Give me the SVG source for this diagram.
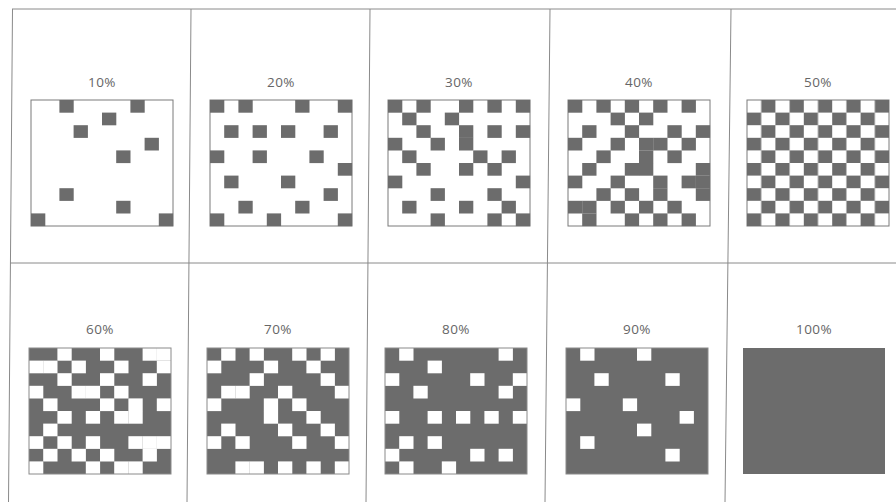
<svg xmlns="http://www.w3.org/2000/svg" xmlns:xlink="http://www.w3.org/1999/xlink" width="896" height="502" viewBox="0 0 896 502">
<style>
  .ln{stroke:#8a8a8a;stroke-width:1;fill:none}
  .box{fill:#fff;stroke:#7a7a7a;stroke-width:1}
  .full{fill:#6c6c6c}
  .edge{fill:none;stroke:#8a8a8a;stroke-width:1}
  .d{fill:#6c6c6c}
  .w{fill:#fff}
  .lbl{font-family:"Open Sans","Liberation Sans",sans-serif;font-size:13.5px;fill:#666;text-anchor:middle;letter-spacing:0.4px}
</style>
<defs>
  <rect id="c" width="14.3" height="12.7"/>
  <rect id="w" width="14.3" height="12.7"/>
  <pattern id="chk" patternUnits="userSpaceOnUse" width="28.4" height="25.2">
    <rect x="14.2" y="0" width="14.2" height="12.6" fill="#6c6c6c"/>
    <rect x="0" y="12.6" width="14.2" height="12.6" fill="#6c6c6c"/>
  </pattern>
</defs>
<rect width="896" height="502" fill="#fff"/>
<g id="grid">
  <line class="ln" x1="12" y1="9" x2="896" y2="9"/>
  <line class="ln" x1="10" y1="263" x2="896" y2="263"/>
  <line class="ln" x1="12.5" y1="9" x2="8.5" y2="502"/>
  <line class="ln" x1="191" y1="9" x2="187" y2="502"/>
  <line class="ln" x1="370" y1="9" x2="366" y2="502"/>
  <line class="ln" x1="550" y1="9" x2="545" y2="502"/>
  <line class="ln" x1="731" y1="9" x2="725" y2="502"/>
</g>
<g id="cell-10" transform="translate(31,100)">
  <text class="lbl" x="71" y="-13">10%</text>
  <rect class="box" width="142" height="126"/>
  <g class="d">
    <use href="#c" x="28.4" y="0"/><use href="#c" x="99.4" y="0"/><use href="#c" x="71" y="12.6"/>
    <use href="#c" x="42.6" y="25.2"/><use href="#c" x="113.6" y="37.8"/><use href="#c" x="85.2" y="50.4"/>
    <use href="#c" x="28.4" y="88.2"/><use href="#c" x="85.2" y="100.8"/><use href="#c" x="0" y="113.4"/>
    <use href="#c" x="127.8" y="113.4"/>
  </g>
</g>
<g id="cell-20" transform="translate(210,100)">
  <text class="lbl" x="71" y="-13">20%</text>
  <rect class="box" width="142" height="126"/>
  <g class="d">
    <use href="#c" x="0" y="0"/><use href="#c" x="28.4" y="0"/><use href="#c" x="85.2" y="0"/><use href="#c" x="127.8" y="0"/>
    <use href="#c" x="14.2" y="25.2"/><use href="#c" x="42.6" y="25.2"/><use href="#c" x="71" y="25.2"/><use href="#c" x="113.6" y="25.2"/>
    <use href="#c" x="0" y="50.4"/><use href="#c" x="42.6" y="50.4"/><use href="#c" x="99.4" y="50.4"/>
    <use href="#c" x="127.8" y="63"/>
    <use href="#c" x="14.2" y="75.6"/><use href="#c" x="71" y="75.6"/>
    <use href="#c" x="113.6" y="88.2"/>
    <use href="#c" x="28.4" y="100.8"/><use href="#c" x="85.2" y="100.8"/>
    <use href="#c" x="0" y="113.4"/><use href="#c" x="56.8" y="113.4"/><use href="#c" x="127.8" y="113.4"/>
  </g>
</g>
<g id="cell-30" transform="translate(388,100)">
  <text class="lbl" x="71" y="-13">30%</text>
  <rect class="box" width="142" height="126"/>
  <g class="d">
    <use href="#c" x="0" y="0"/><use href="#c" x="28.4" y="0"/><use href="#c" x="71" y="0"/><use href="#c" x="99.4" y="0"/><use href="#c" x="127.8" y="0"/>
    <use href="#c" x="14.2" y="12.6"/><use href="#c" x="56.8" y="12.6"/>
    <use href="#c" x="28.4" y="25.2"/><use href="#c" x="71" y="25.2"/><use href="#c" x="99.4" y="25.2"/><use href="#c" x="127.8" y="25.2"/>
    <use href="#c" x="0" y="37.8"/><use href="#c" x="42.6" y="37.8"/><use href="#c" x="71" y="37.8"/>
    <use href="#c" x="14.2" y="50.4"/><use href="#c" x="85.2" y="50.4"/><use href="#c" x="113.6" y="50.4"/>
    <use href="#c" x="28.4" y="63"/><use href="#c" x="71" y="63"/><use href="#c" x="99.4" y="63"/>
    <use href="#c" x="0" y="75.6"/><use href="#c" x="127.8" y="75.6"/>
    <use href="#c" x="42.6" y="88.2"/><use href="#c" x="99.4" y="88.2"/>
    <use href="#c" x="14.2" y="100.8"/><use href="#c" x="71" y="100.8"/><use href="#c" x="113.6" y="100.8"/>
    <use href="#c" x="42.6" y="113.4"/><use href="#c" x="99.4" y="113.4"/><use href="#c" x="127.8" y="113.4"/>
  </g>
</g>
<g id="cell-40" transform="translate(568,100)">
  <text class="lbl" x="71" y="-13">40%</text>
  <rect class="box" width="142" height="126"/>
  <g class="d">
    <use href="#c" x="0" y="0"/><use href="#c" x="28.4" y="0"/><use href="#c" x="56.8" y="0"/><use href="#c" x="85.2" y="0"/><use href="#c" x="113.6" y="0"/>
    <use href="#c" x="42.6" y="12.6"/><use href="#c" x="71" y="12.6"/>
    <use href="#c" x="14.2" y="25.2"/><use href="#c" x="56.8" y="25.2"/><use href="#c" x="99.4" y="25.2"/><use href="#c" x="127.8" y="25.2"/>
    <use href="#c" x="0" y="37.8"/><use href="#c" x="42.6" y="37.8"/><use href="#c" x="71" y="37.8"/><use href="#c" x="85.2" y="37.8"/><use href="#c" x="113.6" y="37.8"/>
    <use href="#c" x="28.4" y="50.4"/><use href="#c" x="71" y="50.4"/><use href="#c" x="99.4" y="50.4"/>
    <use href="#c" x="14.2" y="63"/><use href="#c" x="56.8" y="63"/><use href="#c" x="71" y="63"/><use href="#c" x="127.8" y="63"/>
    <use href="#c" x="0" y="75.6"/><use href="#c" x="42.6" y="75.6"/><use href="#c" x="85.2" y="75.6"/><use href="#c" x="113.6" y="75.6"/><use href="#c" x="127.8" y="75.6"/>
    <use href="#c" x="28.4" y="88.2"/><use href="#c" x="56.8" y="88.2"/><use href="#c" x="85.2" y="88.2"/><use href="#c" x="127.8" y="88.2"/>
    <use href="#c" x="0" y="100.8"/><use href="#c" x="14.2" y="100.8"/><use href="#c" x="42.6" y="100.8"/><use href="#c" x="71" y="100.8"/><use href="#c" x="99.4" y="100.8"/>
    <use href="#c" x="14.2" y="113.4"/><use href="#c" x="56.8" y="113.4"/><use href="#c" x="85.2" y="113.4"/><use href="#c" x="113.6" y="113.4"/>
  </g>
</g>
<g id="cell-50" transform="translate(747,100)">
  <text class="lbl" x="71" y="-13">50%</text>
  <rect class="box" width="142" height="126"/>
  <rect width="142" height="126" fill="url(#chk)"/>
</g>
<g id="cell-60" transform="translate(29,348)">
  <text class="lbl" x="71" y="-14">60%</text>
  <rect class="full" width="142" height="126"/>
  <g class="w">
    <use href="#w" x="28.4" y="0"/><use href="#w" x="71" y="0"/><use href="#w" x="113.6" y="0"/><use href="#w" x="127.8" y="0"/>
    <use href="#w" x="0" y="12.6"/><use href="#w" x="14.2" y="12.6"/><use href="#w" x="42.6" y="12.6"/><use href="#w" x="85.2" y="12.6"/><use href="#w" x="127.8" y="12.6"/>
    <use href="#w" x="28.4" y="25.2"/><use href="#w" x="71" y="25.2"/><use href="#w" x="113.6" y="25.2"/>
    <use href="#w" x="0" y="37.8"/><use href="#w" x="42.6" y="37.8"/><use href="#w" x="56.8" y="37.8"/><use href="#w" x="85.2" y="37.8"/>
    <use href="#w" x="14.2" y="50.4"/><use href="#w" x="71" y="50.4"/><use href="#w" x="99.4" y="50.4"/><use href="#w" x="127.8" y="50.4"/>
    <use href="#w" x="28.4" y="63"/><use href="#w" x="56.8" y="63"/><use href="#w" x="85.2" y="63"/><use href="#w" x="99.4" y="63"/>
    <use href="#w" x="14.2" y="75.6"/>
    <use href="#w" x="0" y="88.2"/><use href="#w" x="28.4" y="88.2"/><use href="#w" x="56.8" y="88.2"/><use href="#w" x="99.4" y="88.2"/><use href="#w" x="113.6" y="88.2"/><use href="#w" x="127.8" y="88.2"/>
    <use href="#w" x="14.2" y="100.8"/><use href="#w" x="42.6" y="100.8"/><use href="#w" x="71" y="100.8"/><use href="#w" x="113.6" y="100.8"/>
    <use href="#w" x="0" y="113.4"/><use href="#w" x="56.8" y="113.4"/><use href="#w" x="85.2" y="113.4"/><use href="#w" x="99.4" y="113.4"/>
  </g>
  <rect class="edge" width="142" height="126"/>
</g>
<g id="cell-70" transform="translate(207,348)">
  <text class="lbl" x="71" y="-14">70%</text>
  <rect class="full" width="142" height="126"/>
  <g class="w">
    <use href="#w" x="14.2" y="0"/><use href="#w" x="42.6" y="0"/><use href="#w" x="85.2" y="0"/><use href="#w" x="113.6" y="0"/>
    <use href="#w" x="0" y="12.6"/><use href="#w" x="56.8" y="12.6"/><use href="#w" x="99.4" y="12.6"/>
    <use href="#w" x="42.6" y="25.2"/><use href="#w" x="113.6" y="25.2"/>
    <use href="#w" x="14.2" y="37.8"/><use href="#w" x="28.4" y="37.8"/><use href="#w" x="71" y="37.8"/><use href="#w" x="127.8" y="37.8"/>
    <use href="#w" x="0" y="50.4"/><use href="#w" x="56.8" y="50.4"/><use href="#w" x="85.2" y="50.4"/>
    <use href="#w" x="56.8" y="63"/><use href="#w" x="99.4" y="63"/>
    <use href="#w" x="14.2" y="75.6"/><use href="#w" x="71" y="75.6"/><use href="#w" x="113.6" y="75.6"/>
    <use href="#w" x="0" y="88.2"/><use href="#w" x="28.4" y="88.2"/><use href="#w" x="85.2" y="88.2"/><use href="#w" x="127.8" y="88.2"/>
    <use href="#w" x="28.4" y="113.4"/><use href="#w" x="42.6" y="113.4"/><use href="#w" x="71" y="113.4"/><use href="#w" x="99.4" y="113.4"/><use href="#w" x="127.8" y="113.4"/>
  </g>
  <rect class="edge" width="142" height="126"/>
</g>
<g id="cell-80" transform="translate(385,348)">
  <text class="lbl" x="71" y="-14">80%</text>
  <rect class="full" width="142" height="126"/>
  <g class="w">
    <use href="#w" x="14.2" y="0"/><use href="#w" x="113.6" y="0"/>
    <use href="#w" x="42.6" y="12.6"/>
    <use href="#w" x="0" y="25.2"/><use href="#w" x="85.2" y="25.2"/><use href="#w" x="127.8" y="25.2"/>
    <use href="#w" x="28.4" y="37.8"/><use href="#w" x="113.6" y="37.8"/>
    <use href="#w" x="0" y="63"/><use href="#w" x="42.6" y="63"/><use href="#w" x="71" y="63"/><use href="#w" x="99.4" y="63"/><use href="#w" x="127.8" y="63"/>
    <use href="#w" x="14.2" y="88.2"/><use href="#w" x="42.6" y="88.2"/>
    <use href="#w" x="0" y="100.8"/><use href="#w" x="85.2" y="100.8"/><use href="#w" x="113.6" y="100.8"/>
    <use href="#w" x="14.2" y="113.4"/><use href="#w" x="56.8" y="113.4"/>
  </g>
  <rect class="edge" width="142" height="126"/>
</g>
<g id="cell-90" transform="translate(566,348)">
  <text class="lbl" x="71" y="-14">90%</text>
  <rect class="full" width="142" height="126"/>
  <g class="w">
    <use href="#w" x="14.2" y="0"/><use href="#w" x="71" y="0"/>
    <use href="#w" x="28.4" y="25.2"/><use href="#w" x="99.4" y="25.2"/>
    <use href="#w" x="0" y="50.4"/><use href="#w" x="56.8" y="50.4"/>
    <use href="#w" x="113.6" y="63"/>
    <use href="#w" x="71" y="75.6"/>
    <use href="#w" x="14.2" y="88.2"/>
    <use href="#w" x="99.4" y="100.8"/>
  </g>
  <rect class="edge" width="142" height="126"/>
</g>
<g id="cell-100" transform="translate(743,348)">
  <text class="lbl" x="71" y="-14">100%</text>
  <rect class="full" width="142" height="126"/>
</g>
</svg>
